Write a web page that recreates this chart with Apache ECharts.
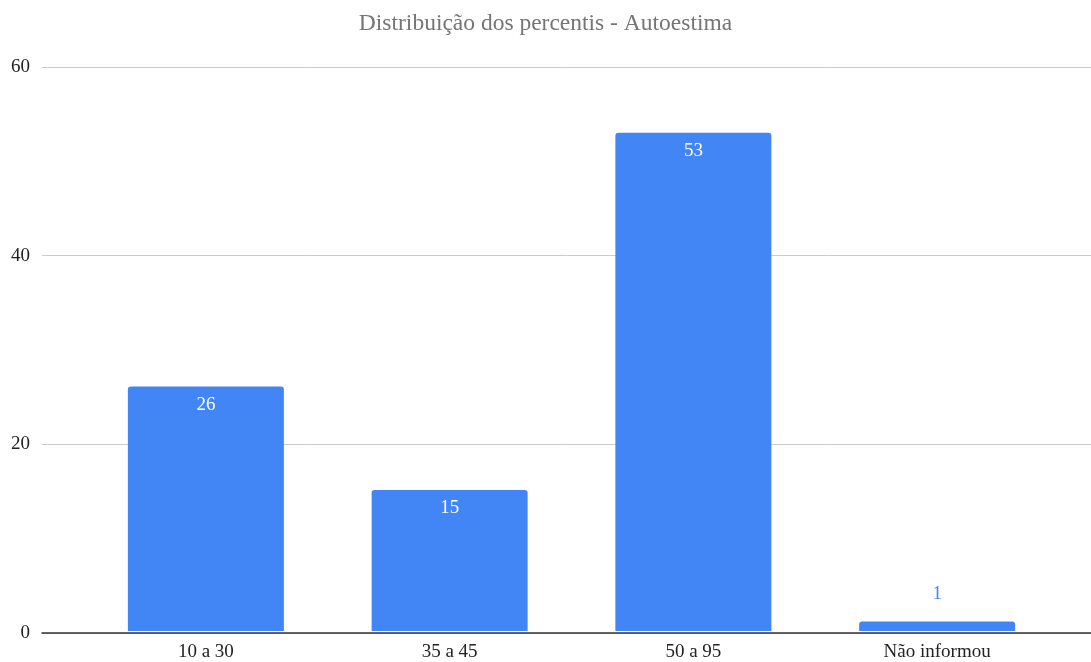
<!DOCTYPE html>
<html>
<head>
<meta charset="utf-8">
<script src="https://cdn.jsdelivr.net/npm/echarts@6/dist/echarts.min.js"></script>
<style>
html,body{margin:0;padding:0;background:#fff;}
#chart{width:1091px;height:662px;}
</style>
</head>
<body>
<div id="chart"></div>
<script>
const titleText = 'Distribuição dos percentis - Autoestima';
const categories = ['10 a 30', '35 a 45', '50 a 95', 'Não informou'];
const counts = [26, 15, 53, 1];
const yTicks = { min: 0, max: 60, interval: 20 };

const BLUE = '#4285F4';
const FONT = 'Liberation Serif';

const chart = echarts.init(document.getElementById('chart'));

const barData = counts.map(function (v) {
  // short bars get their label above the bar
  if (v < 4) {
    return {
      value: v,
      label: { position: 'top', distance: 18, color: BLUE }
    };
  }
  return v;
});

chart.setOption({
  animation: false,
  title: {
    text: titleText,
    left: 'center',
    top: 7,
    textStyle: { fontFamily: FONT, fontSize: 23.5, fontWeight: 'normal', color: '#757575' }
  },
  grid: [
    { left: 42, right: 0, top: 67, bottom: 29 },
    { left: 84, right: 32, top: 67, bottom: 29 }
  ],
  xAxis: [
    {
      gridIndex: 0, type: 'category', data: [''],
      axisLine: { show: true, lineStyle: { color: '#333', width: 1.5 } },
      axisTick: { show: false }, axisLabel: { show: false }
    },
    {
      gridIndex: 1, type: 'category', data: categories,
      axisLine: { show: false }, axisTick: { show: false },
      axisLabel: { fontFamily: FONT, fontSize: 19, color: '#222', margin: 12 }
    }
  ],
  yAxis: [
    {
      gridIndex: 0, type: 'value', min: yTicks.min, max: yTicks.max, interval: yTicks.interval,
      axisLine: { show: false }, axisTick: { show: false },
      axisLabel: { fontFamily: FONT, fontSize: 19, color: '#222', margin: 12 },
      splitLine: { lineStyle: { color: '#cccccc', width: 1 } }
    },
    {
      gridIndex: 1, type: 'value', min: yTicks.min, max: yTicks.max, interval: yTicks.interval,
      show: false, splitLine: { show: false }
    }
  ],
  series: [
    {
      type: 'bar',
      xAxisIndex: 1, yAxisIndex: 1,
      data: barData,
      barCategoryGap: '36%',
      itemStyle: { color: BLUE, borderRadius: [3, 3, 0, 0] },
      label: {
        show: true, position: 'insideTop', distance: 9,
        fontFamily: FONT, fontSize: 19, color: '#ffffff'
      },
      z: 3
    }
  ]
});
</script>
</body>
</html>
